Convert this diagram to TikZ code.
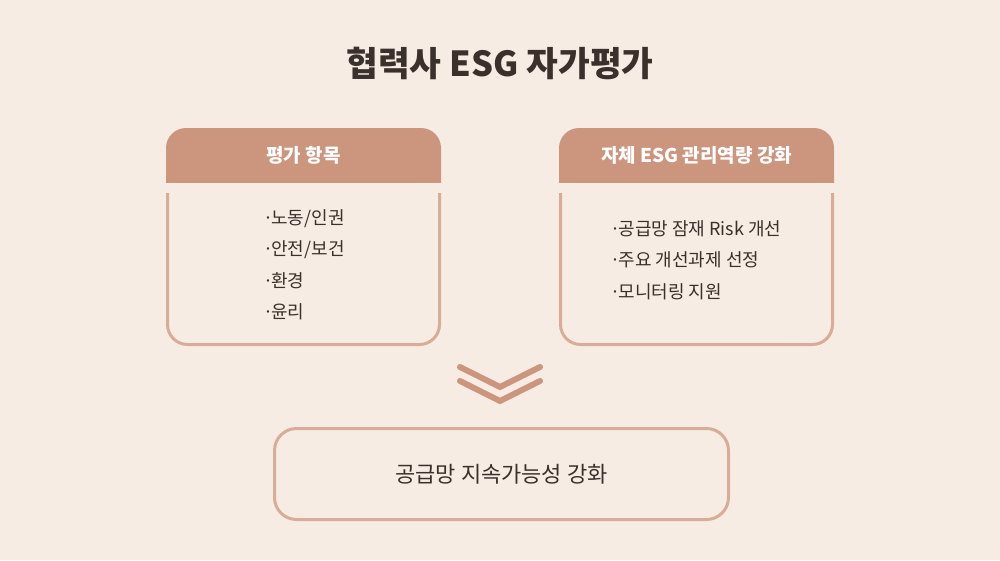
\documentclass[tikz,border=0pt]{standalone}
\usepackage{fontspec}
\setmainfont{Noto Sans CJK KR}
\usetikzlibrary{positioning}
\definecolor{bgcream}{HTML}{F7ECE3}
\definecolor{headbrown}{HTML}{CB957E}
\definecolor{linetan}{HTML}{D9AC97}
\definecolor{textdark}{HTML}{3A302C}
\newcommand{\listdot}{·\kern-2pt}

\begin{document}
\begin{tikzpicture}[x=1pt, y=-1pt,
  headtext/.style={text=white, font=\fontsize{19}{23}\selectfont\bfseries},
  listtext/.style={text=textdark, align=left, font=\fontsize{18}{31.5}\selectfont},
  bodyline/.style={draw=linetan, line width=3pt, rounded corners=20}]
			% Background
			\fill[bgcream] (0,0) rectangle (1000,560);
			\useasboundingbox (0,0) rectangle (1000,560);
			
			% Title
			\node[text=textdark, font=\fontsize{34.5}{40}\selectfont\bfseries] (title) at (500,63) {협력사 ESG 자가평가};
			
			% Draw Left Box
			\begin{scope}
				\clip (166,128) rectangle (441,182);
				\fill[headbrown, rounded corners=20] (166,128) rectangle (441,220);
			\end{scope}
			\node[headtext] (evalhead) at (303.5,155) {평가 항목};
			\draw[bodyline] (167.5,193) -- (167.5,344.5) -- (439.5,344.5) -- (439.5,193);
			\node[listtext] (evallist) at (304,265) {\listdot 노동/인권\\\listdot 안전/보건\\\listdot 환경\\\listdot 윤리};
			
			% Draw Right Box
			\begin{scope}
				\clip (559,128) rectangle (834,182);
				\fill[headbrown, rounded corners=20] (559,128) rectangle (834,220);
			\end{scope}
			\node[headtext] (ownhead) at (696.5,155) {자체 ESG 관리역량 강화};
			\draw[bodyline] (560.5,193) -- (560.5,344.5) -- (832.5,344.5) -- (832.5,193);
			\node[listtext] (ownlist) at (696,260) {\listdot 공급망 잠재 Risk 개선\\\listdot 주요 개선과제 선정\\\listdot 모니터링 지원};
			
			% Draw Chevrons
			\draw[headbrown, line width=6pt, line cap=round] (460,367) -- (500,387) -- (540,367);
			\draw[headbrown, line width=6pt, line cap=round] (460,381) -- (500,401) -- (540,381);
			
			% Goal Box
			\node[draw=linetan, line width=3pt, rounded corners=22, minimum width=454, minimum height=91,
				text=textdark, font=\fontsize{22}{26}\selectfont] (goal) at (501.5,474) {공급망 지속가능성 강화};
		\end{tikzpicture}
\end{document}
